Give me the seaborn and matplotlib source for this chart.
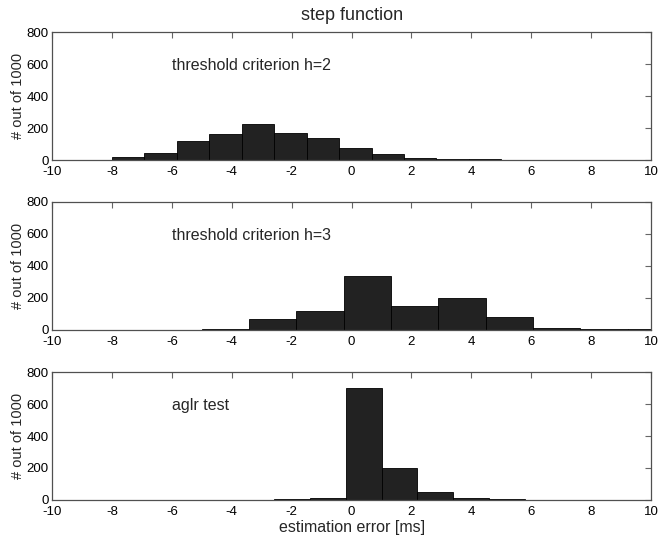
import numpy as np
import matplotlib
matplotlib.use("Agg")
import matplotlib.pyplot as plt
import seaborn as sns

# Histogram bin edges and counts (out of 1000 runs) for each detector
edges_h2 = [-8 + k * 13 / 12 for k in range(13)]
counts_h2 = [20, 43, 117, 163, 226, 166, 139, 77, 38, 15, 6, 5]

edges_h3 = [-5 + k * 1.58 for k in range(11)]
counts_h3 = [5, 70, 120, 339, 152, 197, 82, 10, 9, 6]

edges_aglr = [-5 + k * 1.2 for k in range(11)]
counts_aglr = [2, 2, 6, 14, 703, 202, 51, 14, 5, 2]

panel_labels = ["threshold criterion h=2", "threshold criterion h=3", "aglr test"]
x_ticks = list(range(-10, 11, 2))
y_ticks = [0, 200, 400, 600, 800]

sns.set_style("white")
plt.rcParams["font.family"] = ["Liberation Sans", "DejaVu Sans"]
plt.rcParams.update({
    "axes.unicode_minus": False,
    "xtick.direction": "in", "ytick.direction": "in",
    "xtick.top": True, "ytick.right": True,
    "xtick.major.size": 4, "ytick.major.size": 4,
    "xtick.major.width": 0.8, "ytick.major.width": 0.8,
    "xtick.color": "#666666", "ytick.color": "#666666",
    "xtick.labelcolor": "black", "ytick.labelcolor": "black",
    "axes.edgecolor": "#505050", "axes.linewidth": 0.9,
})

fig = plt.figure(figsize=(6.59, 5.43), dpi=100)
left, width, height = 0.079, 0.909, 0.2357
bottoms = [0.7053, 0.3923, 0.0792]

datasets = [(edges_h2, counts_h2), (edges_h3, counts_h3), (edges_aglr, counts_aglr)]
for i, ((edges, counts), label, b) in enumerate(zip(datasets, panel_labels, bottoms)):
    ax = fig.add_axes([left, b, width, height])
    centers = [(edges[j] + edges[j + 1]) / 2 for j in range(len(counts))]
    sns.histplot(x=centers, weights=counts, bins=edges, ax=ax,
                 color="#222222", edgecolor="black", linewidth=0.6, alpha=1.0)
    ax.set_xlim(-10, 10)
    ax.set_ylim(0, 800)
    ax.set_xticks(x_ticks)
    ax.set_yticks(y_ticks)
    ax.tick_params(axis="y", labelsize=9.5, pad=2.5)
    ax.tick_params(axis="x", labelsize=9.5, pad=4.5)
    ax.set_ylabel("# out of 1000", fontsize=10.5, labelpad=1)
    ax.set_xlabel("")
    ax.text(-6, 590, label, fontsize=11.5, va="center", ha="left")
    for s in ax.spines.values():
        s.set_visible(True)
    if i == 0:
        ax.set_title("step function", fontsize=13, pad=9)
    if i == 2:
        ax.set_xlabel("estimation error [ms]", fontsize=11.5, labelpad=1)

fig.savefig("out.png", dpi=100)
